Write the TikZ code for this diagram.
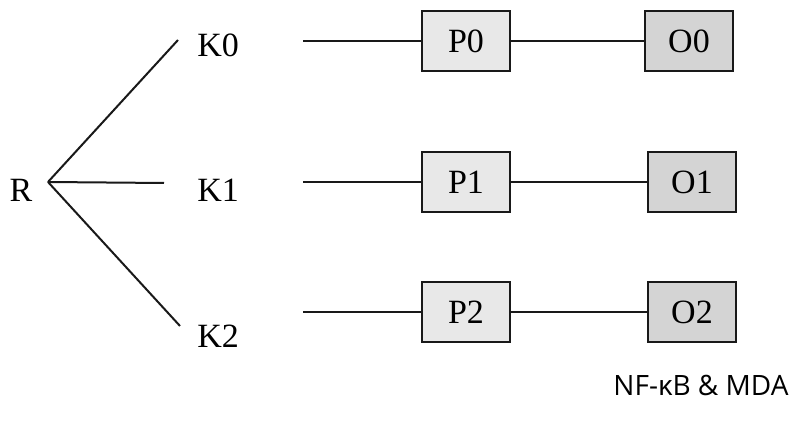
\documentclass[tikz,border=0pt]{standalone}
\usepackage{fontspec}
\setmainfont{Liberation Serif}
\newfontfamily\capfont{Open Sans}
\usetikzlibrary{positioning}

\begin{document}
\begin{tikzpicture}[x=0.5pt,y=-0.5pt,
  lbl/.style={inner sep=0pt,font=\fontsize{17}{20}\selectfont},
  pbox/.style={draw=black!90,line width=1.3pt,fill=black!9,minimum width=44pt,
    minimum height=30pt,inner sep=0pt,font=\fontsize{17}{20}\selectfont},
  obox/.style={pbox,fill=black!17},
  wire/.style={line width=1pt,black!90},
]
\useasboundingbox (0,0) rectangle (794,422);
\node[lbl] (R) at (21,190) {R};
\coordinate (r) at (48,182);
% one row per K
\foreach \k/\y/\ky/\ox/\dx/\dy in {0/41/45/689/-9.5/2.5, 1/182/190/692/-16.5/3.5, 2/312/336/692/-8.5/5}{
  \node[lbl,anchor=west] (K\k) at (197,\ky) {K\k};
  \node[pbox] (P\k) at (466,\y) {P\k};
  \node[obox] (O\k) at (\ox,\y) {O\k};
  \coordinate (s\k) at (303,\y);
  \draw[wire] (r) -- ([xshift=\dx pt,yshift=\dy pt]K\k.west);
  \draw[wire] (s\k) -- (P\k) -- (O\k);
}
\node[font=\capfont\fontsize{14}{16}\selectfont] (cap) at (701,385) {NF-κB \& MDA};
\end{tikzpicture}
\end{document}
